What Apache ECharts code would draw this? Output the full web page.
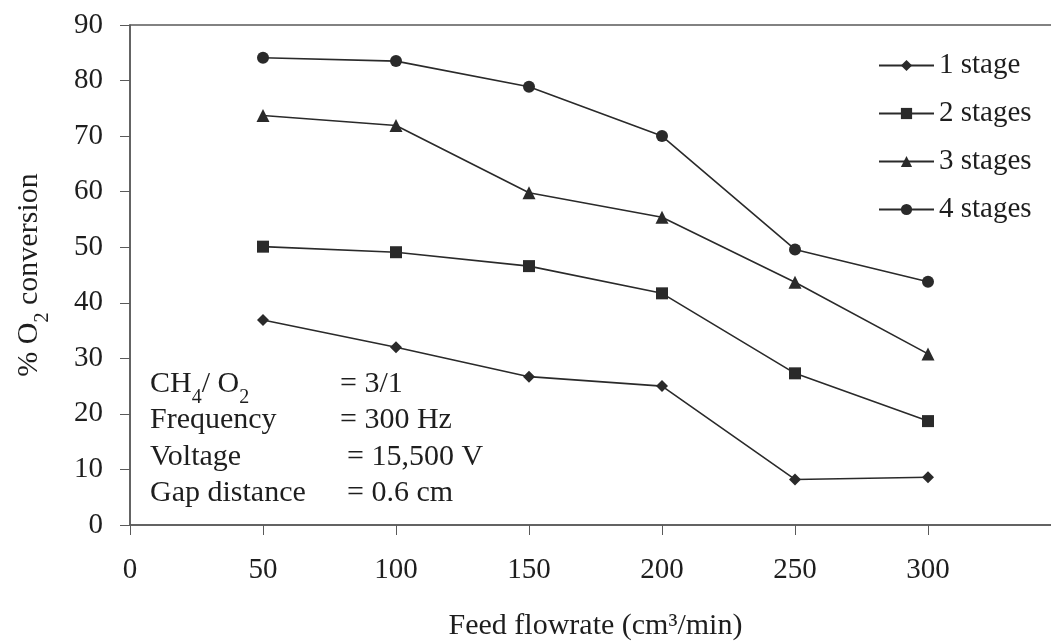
<!DOCTYPE html>
<html>
<head>
<meta charset="utf-8">
<script src="https://cdn.jsdelivr.net/npm/echarts@6/dist/echarts.min.js"></script>
<style>
  html, body { margin: 0; padding: 0; background: #ffffff; }
  #chart { width: 1051px; height: 644px; }
</style>
</head>
<body>
<div id="chart"></div>
<script>
// Feed flowrate (cm3/min) and % O2 conversion for each number of stages
const flowrates = [50, 100, 150, 200, 250, 300];
const oneStage    = [36.9, 32.0, 26.7, 25.0, 8.2, 8.6];
const twoStages   = [50.1, 49.1, 46.6, 41.7, 27.3, 18.7];
const threeStages = [73.7, 71.9, 59.8, 55.4, 43.7, 30.8];
const fourStages  = [84.1, 83.5, 78.9, 70.0, 49.6, 43.8];

const seriesNames = ['1 stage', '2 stages', '3 stages', '4 stages'];
const xTicks = { min: 0, max: 350, step: 50 };
const yTicks = { min: 0, max: 90, step: 10 };

// Operating conditions noted inside the plot
const conditionLabels = ['CH{sub|4}/ O{sub|2}', 'Frequency', 'Voltage', 'Gap distance'];
const conditionValues = ['= 3/1', '= 300 Hz', '= 15,500 V', '= 0.6 cm'];

const FONT = '"Liberation Serif", "DejaVu Serif", serif';
const INK = '#1e1e1e';
const AXIS = '#5a5a5a';

function pairs(values) {
  return flowrates.map((x, i) => [x, values[i]]);
}

function lineSeries(name, values, symbol, size) {
  return {
    name: name,
    type: 'line',
    data: pairs(values),
    symbol: symbol,
    symbolSize: size,
    showAllSymbol: true,
    lineStyle: { color: '#2a2a2a', width: 1.6 },
    itemStyle: { color: '#2a2a2a', borderWidth: 0 },
    emphasis: { disabled: true },
    z: 3
  };
}

const chart = echarts.init(document.getElementById('chart'), null, { renderer: 'canvas' });

const subRich = {
  sub: { fontFamily: FONT, fontSize: 20, color: INK, verticalAlign: 'bottom', padding: [0, 0, -9, 0] }
};

const graphics = [];
conditionLabels.forEach((label, i) => {
  graphics.push({
    type: 'text',
    left: 150,
    top: 369 + i * 36.5,
    style: {
      text: label,
      font: '30px ' + FONT,
      fill: INK,
      rich: subRich
    }
  });
  graphics.push({
    type: 'text',
    left: i < 2 ? 340 : 347,
    top: 369 + i * 36.5,
    style: {
      text: conditionValues[i],
      font: '30px ' + FONT,
      fill: INK
    }
  });
});

chart.setOption({
  backgroundColor: '#ffffff',
  animation: false,
  textStyle: { fontFamily: FONT },
  grid: {
    left: 130,
    top: 25,
    width: 931,
    height: 500,
    containLabel: false,
    outerBoundsMode: 'none',
    show: true,
    borderColor: AXIS,
    borderWidth: 1.5,
    backgroundColor: 'transparent'
  },
  legend: {
    data: seriesNames,
    orient: 'vertical',
    left: 873,
    top: 46,
    itemWidth: 55,
    itemHeight: 14,
    itemGap: 19,
    selectedMode: false,
    textStyle: {
      fontFamily: FONT,
      fontSize: 29,
      color: INK,
      lineHeight: 29
    }
  },
  xAxis: {
    type: 'value',
    min: xTicks.min,
    max: xTicks.max,
    interval: xTicks.step,
    name: 'Feed flowrate (cm³/min)',
    nameLocation: 'middle',
    nameGap: 86,
    nameTextStyle: { fontFamily: FONT, fontSize: 30, color: INK },
    axisLine: { show: true, onZero: false, lineStyle: { color: AXIS, width: 1.5 } },
    axisTick: { show: true, inside: false, length: 10, lineStyle: { color: AXIS, width: 1 } },
    axisLabel: {
      margin: 31,
      fontFamily: FONT,
      fontSize: 29,
      color: INK,
      formatter: v => (v >= xTicks.max ? '' : String(v))
    },
    splitLine: { show: false }
  },
  yAxis: {
    type: 'value',
    min: yTicks.min,
    max: yTicks.max,
    interval: yTicks.step,
    name: '% O{sub|2} conversion',
    nameLocation: 'middle',
    nameRotate: 90,
    nameGap: 86,
    nameTextStyle: {
      fontFamily: FONT,
      fontSize: 30,
      color: INK,
      rich: { sub: { fontFamily: FONT, fontSize: 20, color: INK, verticalAlign: 'bottom', padding: [0, 0, -9, 0] } }
    },
    axisLine: { show: true, lineStyle: { color: AXIS, width: 1.5 } },
    axisTick: { show: true, inside: false, length: 10, lineStyle: { color: AXIS, width: 1 } },
    axisLabel: { margin: 27, fontFamily: FONT, fontSize: 29, color: INK },
    splitLine: { show: false }
  },
  graphic: graphics,
  series: [
    lineSeries(seriesNames[0], oneStage, 'diamond', 12),
    lineSeries(seriesNames[1], twoStages, 'rect', 12),
    lineSeries(seriesNames[2], threeStages, 'triangle', 13),
    lineSeries(seriesNames[3], fourStages, 'circle', 12)
  ]
});
</script>
</body>
</html>
